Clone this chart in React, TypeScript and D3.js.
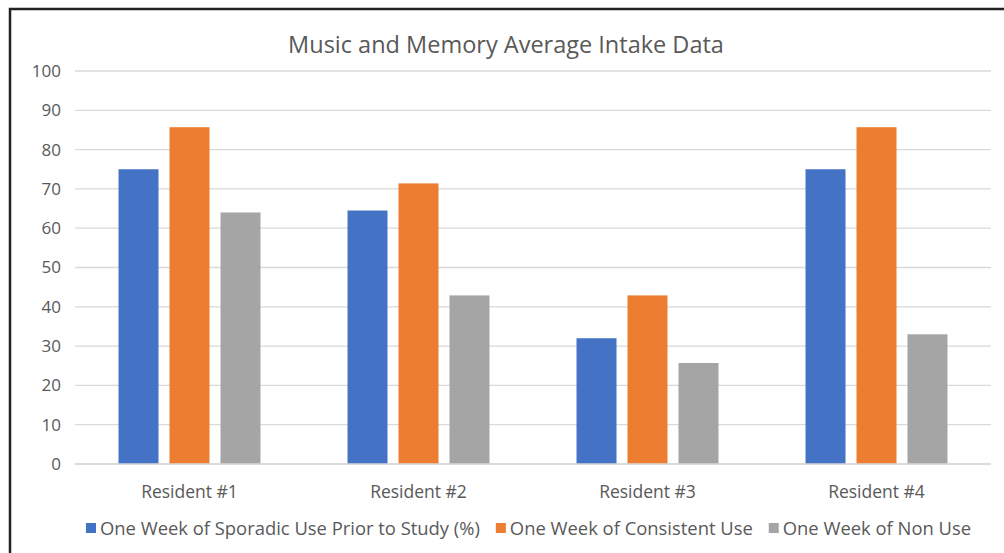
import React, { useEffect, useRef } from "react";
import * as d3 from "d3";

const residents = ["Resident #1", "Resident #2", "Resident #3", "Resident #4"];
const seriesNames = [
  "One Week of Sporadic Use Prior to Study (%)",
  "One Week of Consistent Use",
  "One Week of Non Use",
];
const sporadic = [75, 64.5, 32, 75];
const consistent = [85.7, 71.4, 42.9, 85.7];
const nonUse = [64, 42.9, 25.7, 33];
const yTicks = [0, 10, 20, 30, 40, 50, 60, 70, 80, 90, 100];
const colors = ["#4472c4", "#ed7d31", "#a5a5a5"];

const width = 1004;
const height = 553;
const marginLeft = 75;
const marginRight = 13;
const marginTop = 71;
const plotBottom = 464;
const font = "'Open Sans', sans-serif";
const textColor = "#595959";

export default function App() {
  const ref = useRef<SVGSVGElement>(null);

  useEffect(() => {
    const svg = d3.select(ref.current);
    svg.selectAll("*").remove();

    const values = [sporadic, consistent, nonUse];

    const x0 = d3
      .scaleBand()
      .domain(residents)
      .range([marginLeft, width - marginRight])
      .paddingInner(0.38)
      .paddingOuter(0.19);
    const x1 = d3
      .scaleBand()
      .domain(seriesNames)
      .range([0, x0.bandwidth()])
      .paddingInner(0.2157);
    const y = d3.scaleLinear().domain([0, 100]).range([plotBottom, marginTop]);

    // chart frame (cut off on the right and bottom)
    svg
      .append("rect")
      .attr("x", 10)
      .attr("y", 9)
      .attr("width", 1100)
      .attr("height", 600)
      .attr("fill", "white")
      .attr("stroke", "#222")
      .attr("stroke-width", 2.5);

    svg
      .append("text")
      .attr("x", 506)
      .attr("y", 53)
      .attr("text-anchor", "middle")
      .attr("font-family", font)
      .attr("font-size", 23.5)
      .attr("fill", textColor)
      .text("Music and Memory Average Intake Data");

    // gridlines + y labels
    const yAxis = svg.append("g");
    yAxis
      .selectAll("line")
      .data(yTicks)
      .join("line")
      .attr("x1", marginLeft)
      .attr("x2", width - marginRight)
      .attr("y1", (d) => y(d))
      .attr("y2", (d) => y(d))
      .attr("stroke", "#d9d9d9")
      .attr("stroke-width", 1.3);
    yAxis
      .selectAll("text")
      .data(yTicks)
      .join("text")
      .attr("x", 61)
      .attr("y", (d) => y(d))
      .attr("dy", "0.35em")
      .attr("text-anchor", "end")
      .attr("font-family", font)
      .attr("font-size", 17)
      .attr("fill", textColor)
      .text((d) => d);

    // bars
    const groups = svg
      .append("g")
      .selectAll("g")
      .data(residents)
      .join("g")
      .attr("transform", (d) => `translate(${x0(d)},0)`);
    groups
      .selectAll("rect")
      .data((_, i) => seriesNames.map((s, j) => ({ s, j, v: values[j][i] })))
      .join("rect")
      .attr("x", (d) => x1(d.s)!)
      .attr("width", x1.bandwidth())
      .attr("y", (d) => y(d.v))
      .attr("height", (d) => plotBottom - y(d.v))
      .attr("fill", (d) => colors[d.j]);

    // baseline
    svg
      .append("line")
      .attr("x1", marginLeft)
      .attr("x2", width - marginRight)
      .attr("y1", plotBottom)
      .attr("y2", plotBottom)
      .attr("stroke", "#d9d9d9")
      .attr("stroke-width", 1.5);

    // category labels
    svg
      .append("g")
      .selectAll("text")
      .data(residents)
      .join("text")
      .attr("x", (d) => x0(d)! + x0.bandwidth() / 2)
      .attr("y", 498)
      .attr("text-anchor", "middle")
      .attr("font-family", font)
      .attr("font-size", 17.5)
      .attr("fill", textColor)
      .text((d) => d);

    // legend, laid out from measured text widths
    const legend = svg.append("g");
    const items = legend
      .selectAll("g")
      .data(seriesNames)
      .join("g");
    items
      .append("rect")
      .attr("width", 10)
      .attr("height", 10)
      .attr("y", 523)
      .attr("fill", (_, i) => colors[i]);
    const labels = items
      .append("text")
      .attr("x", 14)
      .attr("y", 535)
      .attr("font-family", font)
      .attr("font-size", 18.4)
      .attr("fill", textColor)
      .text((d) => d);
    const widths = labels.nodes().map((n) => (n as SVGTextElement).getComputedTextLength() + 14);
    const gap = 16;
    const total = d3.sum(widths) + gap * (widths.length - 1);
    let cx = 528.5 - total / 2;
    items.attr("transform", (_, i) => {
      const t = `translate(${cx},0)`;
      cx += widths[i] + gap;
      return t;
    });
  }, []);

  return (
    <svg
      ref={ref}
      width={width}
      height={height}
      style={{ position: "absolute", left: 0, top: 0, background: "white" }}
    />
  );
}
